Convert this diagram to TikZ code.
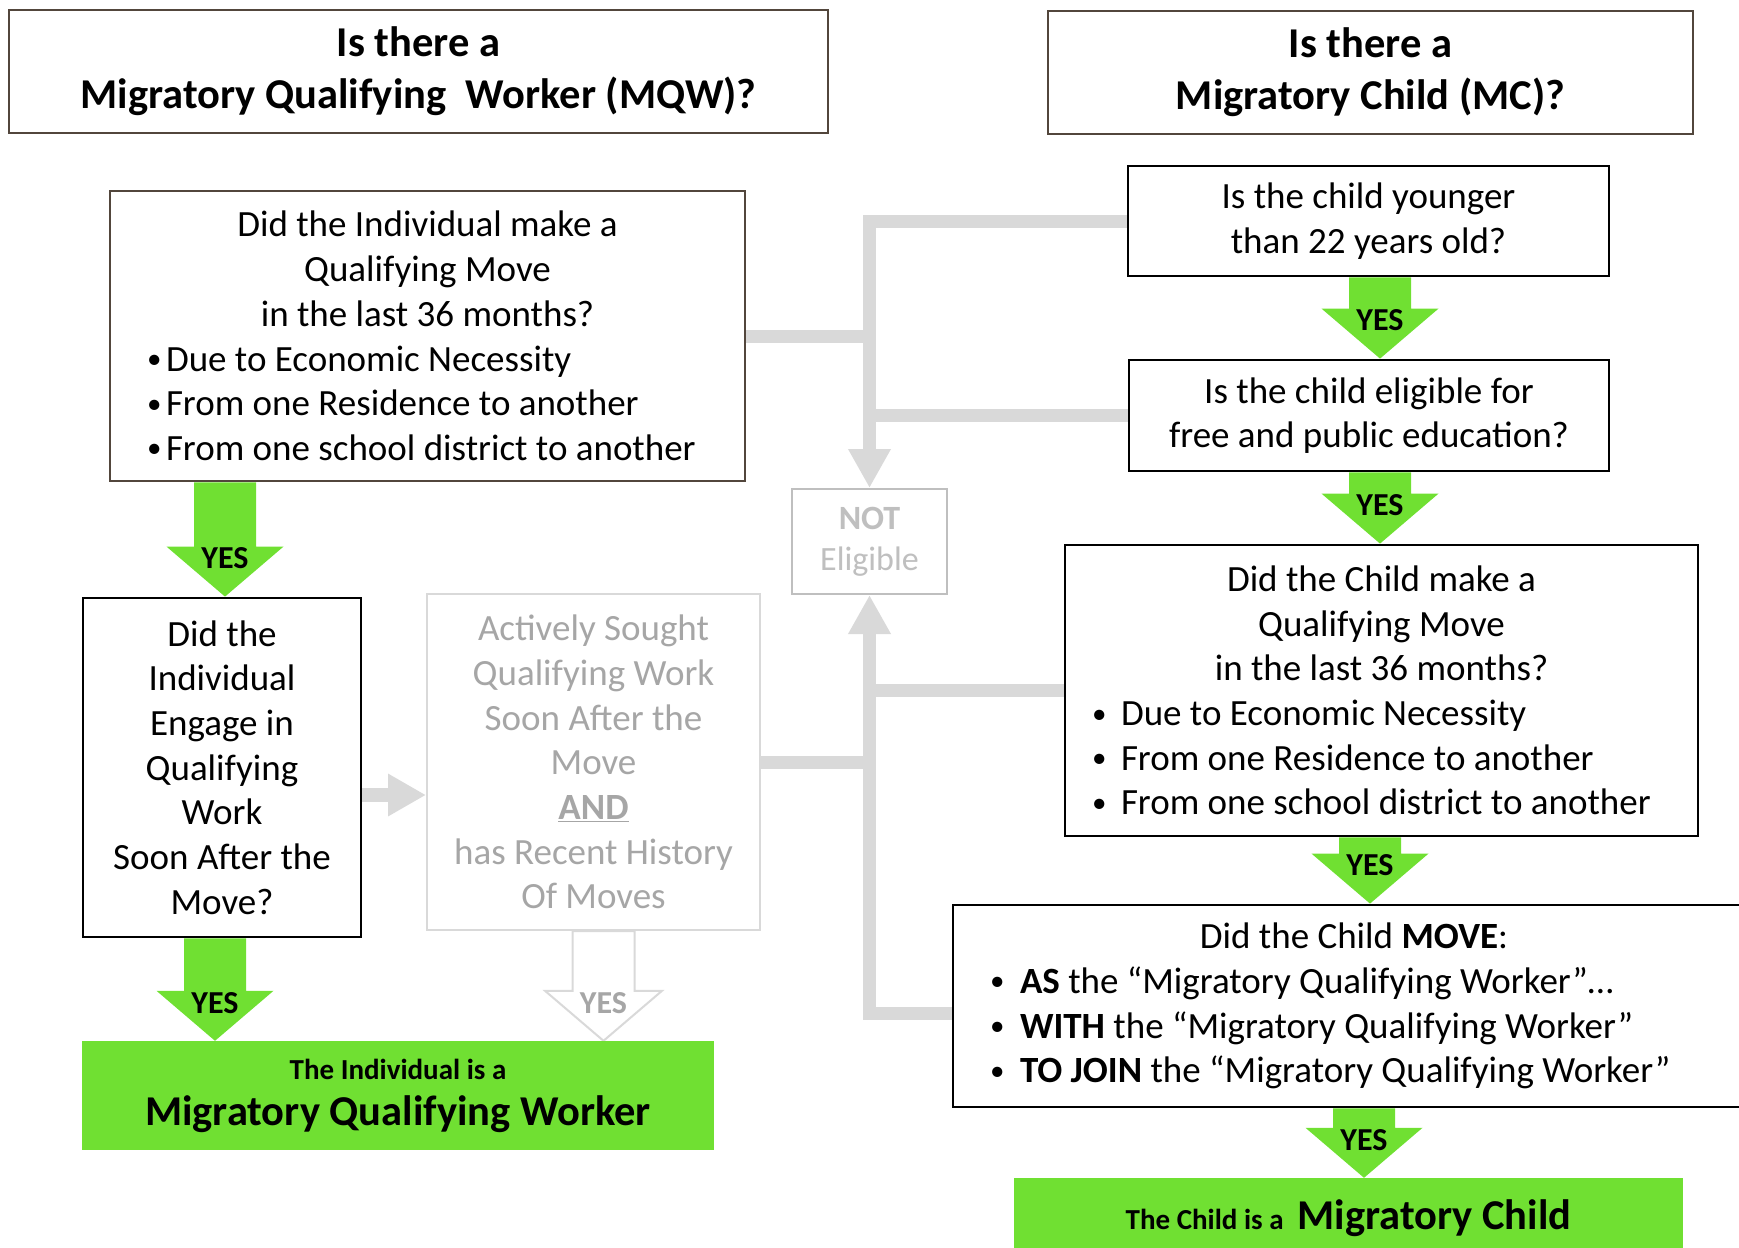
\documentclass[tikz,border=0pt]{standalone}
\usepackage{fontspec}
\setmainfont{Carlito}
\usepackage{xcolor}
\usepackage{tikz}
\usetikzlibrary{arrows.meta}
\usetikzlibrary{backgrounds}

\definecolor{boxbrown}{RGB}{82,70,60}
\definecolor{yesgreen}{RGB}{112,224,50}
\definecolor{linegrey}{RGB}{217,217,217}
\definecolor{textgrey}{RGB}{166,166,166}
\definecolor{notgrey}{RGB}{191,191,191}

\newcommand{\bul}[1][19pt]{\makebox[#1][l]{\raisebox{2.5pt}{\fontsize{29}{29}\selectfont\textbullet}}}

% block arrow with YES: x, upper node, lower node, name, colour set
\newcommand{\yesarrow}[5]{%
    \coordinate (#4t) at (#1,0 |- #2.south);
    \coordinate (#4b) at (#1,0 |- #3.north);
    \path[#5 arrow] ([xshift=-31pt]#4t) -- ([xshift=31pt]#4t)
        -- ([xshift=31pt,yshift=50pt]#4b) -- ([xshift=58.5pt,yshift=50pt]#4b)
        -- (#4b) -- ([xshift=-58.5pt,yshift=50pt]#4b)
        -- ([xshift=-31pt,yshift=50pt]#4b) -- cycle;
    \node[#5 label] (#4) at ([yshift=38pt]#4b) {YES};
}

\tikzset{
    qbox/.style={draw=black, line width=2.8pt, fill=white, inner sep=0pt,
        font=\fontsize{37}{44.7}\selectfont, align=center},
    headbox/.style={draw=boxbrown, line width=2.8pt, fill=white,
        font=\fontsize{42.5}{52}\selectfont\bfseries, align=center},
    resultbox/.style={fill=yesgreen, inner sep=0pt, align=center,
        font=\fontsize{42.5}{46}\selectfont\bfseries},
    greyline/.style={draw=linegrey, line width=13pt},
    green arrow/.style={fill=yesgreen},
    green label/.style={font=\fontsize{32}{36}\selectfont\bfseries, text=black},
    grey arrow/.style={draw=linegrey, line width=2pt, fill=white},
    grey label/.style={font=\fontsize{32}{36}\selectfont\bfseries, text=textgrey}
}

\begin{document}
\begin{tikzpicture}[x=1pt, y=1pt]
            \useasboundingbox (0,0) rectangle (1739,-1247);

            % headers
            \node[headbox, minimum width=819pt, minimum height=123pt] (mqwhead) at (418.5,-71.5)
                {Is there a\\ Migratory Qualifying\ \ Worker (MQW)?};
            \node[headbox, minimum width=645pt, minimum height=123pt] (mchead) at (1370.5,-72.5)
                {Is there a\\ Migratory Child (MC)?};

            % worker side
            \node[qbox, draw=boxbrown, minimum width=635pt, minimum height=290pt,
                text width=561pt, inner xsep=37pt, align=flush left] (indmove) at (427.5,-336)
                {\centering Did the Individual make a\\ Qualifying Move\\ in the last 36 months?\par\raggedright
                \bul Due to Economic Necessity\\ \bul From one Residence to another\\ \bul From one school district to another};
            \node[qbox, minimum width=278pt, minimum height=339pt] (engage) at (222,-767.5)
                {Did the\\ Individual\\ Engage in\\ Qualifying\\ Work\\ Soon After the\\ Move?};
            \node[qbox, draw=linegrey, line width=2pt, text=textgrey, minimum width=333pt, minimum height=336pt] (actively) at (593.5,-762)
                {Actively Sought\\ Qualifying Work\\ Soon After the\\ Move\\ \textbf{\underline{AND}}\\ has Recent History\\ Of Moves};
            \node[resultbox, minimum width=632pt, minimum height=109pt] (mqwgreen) at (398,-1095.5)
                {{\fontsize{29}{46}\selectfont The Individual is a}\\ Migratory Qualifying Worker};

            \node[qbox, draw=notgrey, line width=2pt, text=notgrey, font=\fontsize{34}{41}\selectfont,
                minimum width=155pt, minimum height=105pt] (noteligible) at (869.5,-541.5)
                {\textbf{NOT}\\ Eligible};

            % child side
            \node[qbox, minimum width=481pt, minimum height=110pt] (younger) at (1368.5,-221)
                {Is the child younger\\ than 22 years old?};
            \node[qbox, minimum width=480pt, minimum height=111pt] (eligible) at (1369,-415.5)
                {Is the child eligible for\\ free and public education?};
            \node[qbox, minimum width=633pt, minimum height=291pt,
                text width=579pt, inner xsep=27pt, align=flush left] (childmove) at (1381.5,-690.5)
                {\centering Did the Child make a\\ Qualifying Move\\ in the last 36 months?\par\raggedright
                \bul[29pt]Due to Economic Necessity\\ \bul[29pt]From one Residence to another\\ \bul[29pt]From one school district to another};
            \node[qbox, minimum width=802pt, minimum height=202pt,
                text width=728pt, inner xsep=37pt, align=flush left] (withmqw) at (1354,-1006)
                {\centering Did the Child \textbf{MOVE}:\par\raggedright
                \bul[30pt]\textbf{AS} the “Migratory Qualifying Worker”…\\
                \bul[30pt]\textbf{WITH} the “Migratory Qualifying Worker”\\
                \bul[30pt]\textbf{TO JOIN} the “Migratory Qualifying Worker”};
            \node[resultbox, minimum width=669pt, minimum height=80pt] (mcgreen) at (1348.5,-1218)
                {{\fontsize{29}{46}\selectfont The Child is a}\hspace{14pt}Migratory Child};

            \begin{scope}[on background layer]
                % not eligible branches
                \draw[greyline, -{Triangle[length=39pt,width=40pt]}] (younger.west) -| (noteligible.north);
                \draw[greyline] (indmove.east) -- (indmove.east -| noteligible.north);
                \draw[greyline] (eligible.west) -- (eligible.west -| noteligible.north);
                \draw[greyline, -{Triangle[length=39pt,width=40pt]}] ([yshift=-7pt]withmqw.west) -| (noteligible.south);
                \draw[greyline] (childmove.west) -- (childmove.west -| noteligible.south);
                \draw[greyline] (actively.east) -- (actively.east -| noteligible.south);
                \coordinate (engout) at ([yshift=-27.5pt]engage.east);
                \draw[greyline, line width=14pt, -{Triangle[length=38pt,width=40pt]}] (engout) -- (engout -| actively.west);

                % yes arrows
                \yesarrow{225}{indmove}{engage}{yesa}{green}
                \yesarrow{215}{engage}{mqwgreen}{yesb}{green}
                \yesarrow{603.5}{actively}{mqwgreen}{yesc}{grey}
                \yesarrow{1380}{younger}{eligible}{yesd}{green}
                \yesarrow{1380}{eligible}{childmove}{yese}{green}
                \yesarrow{1370}{childmove}{withmqw}{yesf}{green}
                \yesarrow{1364}{withmqw}{mcgreen}{yesg}{green}
            \end{scope}
        \end{tikzpicture}
\end{document}
